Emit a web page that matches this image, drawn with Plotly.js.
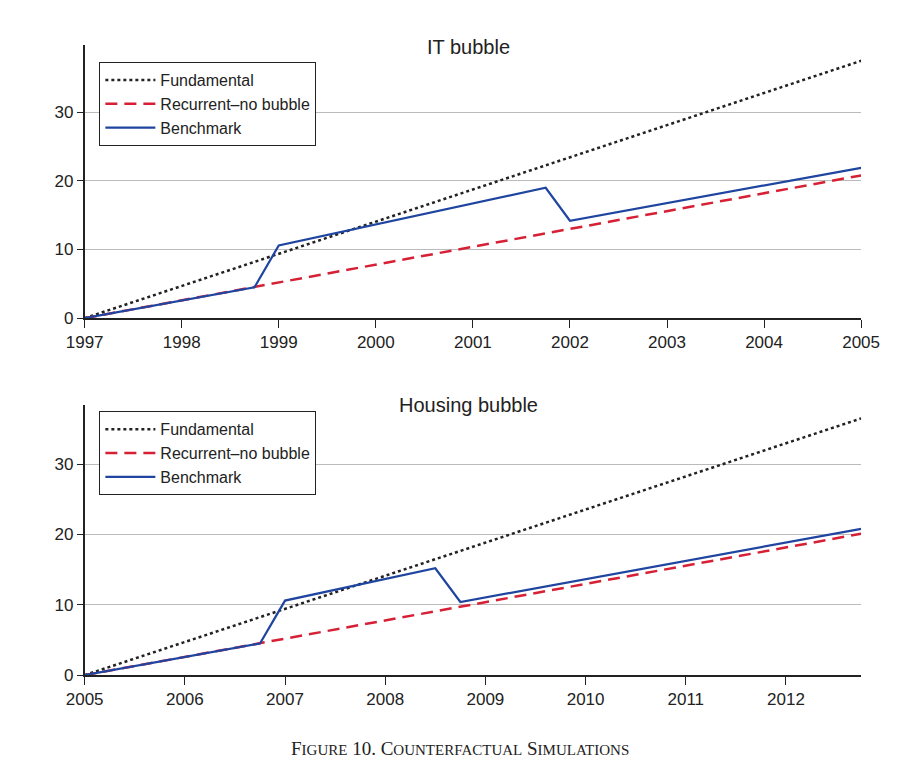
<!DOCTYPE html>
<html>
<head>
<meta charset="utf-8">
<script src="https://cdn.plot.ly/plotly-3.0.1.min.js"></script>
<style>body{margin:0;background:#fff}</style>
</head>
<body>
<div id="graph" style="width:920px;height:776px"></div>
<script>
//DATA
var itFundX = [1997, 2005], itFundY = [0, 37.5];
var itRecX = [1997, 2005], itRecY = [0, 20.8];
var itBenchX = [1997, 1998.75, 1999, 2001.75, 2002, 2005];
var itBenchY = [0, 4.5, 10.6, 19.0, 14.2, 21.9];

var hoFundX = [2005, 2012.75], hoFundY = [0, 36.5];
var hoRecX = [2005, 2012.75], hoRecY = [0, 20.1];
var hoBenchX = [2005, 2006.75, 2007, 2008.5, 2008.75, 2012.75];
var hoBenchY = [0, 4.5, 10.6, 15.2, 10.4, 20.8];

var names = ['Fundamental', 'Recurrent\u2013no bubble', 'Benchmark'];

function line(x, y, i, ax, show){
	var styles = [
		{color: '#222', dash: 'dot', width: 2.5},
		{color: '#d62035', dash: '12px,7px', width: 2.5},
		{color: '#1f45a0', dash: 'solid', width: 2.2}
	];
	return {
		x: x, y: y, name: names[i], mode: 'lines', type: 'scatter',
		line: styles[i], xaxis: 'x' + ax, yaxis: 'y' + ax,
		showlegend: show, legend: ax == '' ? 'legend' : 'legend2'
	};
}

var traces = [
	line(itFundX, itFundY, 0, '', true),
	line(itRecX, itRecY, 1, '', true),
	line(itBenchX, itBenchY, 2, '', true),
	line(hoFundX, hoFundY, 0, '2', true),
	line(hoRecX, hoRecY, 1, '2', true),
	line(hoBenchX, hoBenchY, 2, '2', true)
];

var xbase = {
	showgrid: false, showline: true, linecolor: '#222', linewidth: 1.5,
	ticks: 'outside', ticklen: 8, tickcolor: '#222', dtick: 1,
	tickfont: {size: 17, color: '#222'}, zeroline: false
};
var ybase = {
	showgrid: true, gridcolor: '#bbb', gridwidth: 1, showline: true,
	linecolor: '#222', linewidth: 1.5, ticks: 'outside', ticklen: 6,
	tickcolor: '#222', tickvals: [0, 10, 20, 30], zeroline: false,
	tickfont: {size: 17, color: '#222'}
};
var legbase = {
	x: 0.108, xanchor: 'left', yanchor: 'top', bgcolor: '#fff',
	bordercolor: '#222', borderwidth: 1, font: {size: 16, color: '#222'},
	tracegroupgap: 0, itemwidth: 50
};

var layout = {
	margin: {l: 0, r: 0, t: 0, b: 0},
	paper_bgcolor: '#fff', plot_bgcolor: '#fff',
	font: {family: 'Liberation Sans, Arial', color: '#222'},
	xaxis: Object.assign({}, xbase, {domain: [0.092, 0.936], range: [1997, 2005], anchor: 'y'}),
	yaxis: Object.assign({}, ybase, {domain: [0.59, 0.942], range: [0, 39.8], anchor: 'x'}),
	xaxis2: Object.assign({}, xbase, {domain: [0.092, 0.936], range: [2005, 2012.75], anchor: 'y2'}),
	yaxis2: Object.assign({}, ybase, {domain: [0.13, 0.478], range: [0, 38.4], anchor: 'x2'}),
	legend: Object.assign({}, legbase, {y: 0.92}),
	legend2: Object.assign({}, legbase, {y: 0.47}),
	annotations: [
		{text: 'IT bubble', x: 0.509, y: 1 - 47 / 776, xref: 'paper', yref: 'paper',
		 xanchor: 'center', yanchor: 'middle', showarrow: false, font: {size: 20}},
		{text: 'Housing bubble', x: 0.509, y: 1 - 405 / 776, xref: 'paper', yref: 'paper',
		 xanchor: 'center', yanchor: 'middle', showarrow: false, font: {size: 20}},
		{text: 'F<span style="font-size:15px">IGURE</span> 10. C<span style="font-size:15px">OUNTERFACTUAL</span> S<span style="font-size:15px">IMULATIONS</span>',
		 x: 0.5, y: 1 - 748 / 776, xref: 'paper', yref: 'paper', showarrow: false,
		 xanchor: 'center', yanchor: 'middle',
		 font: {size: 19, family: 'Liberation Serif, Times New Roman'}}
	]
};

Plotly.newPlot('graph', traces, layout, {displayModeBar: false});
</script>
</body>
</html>
